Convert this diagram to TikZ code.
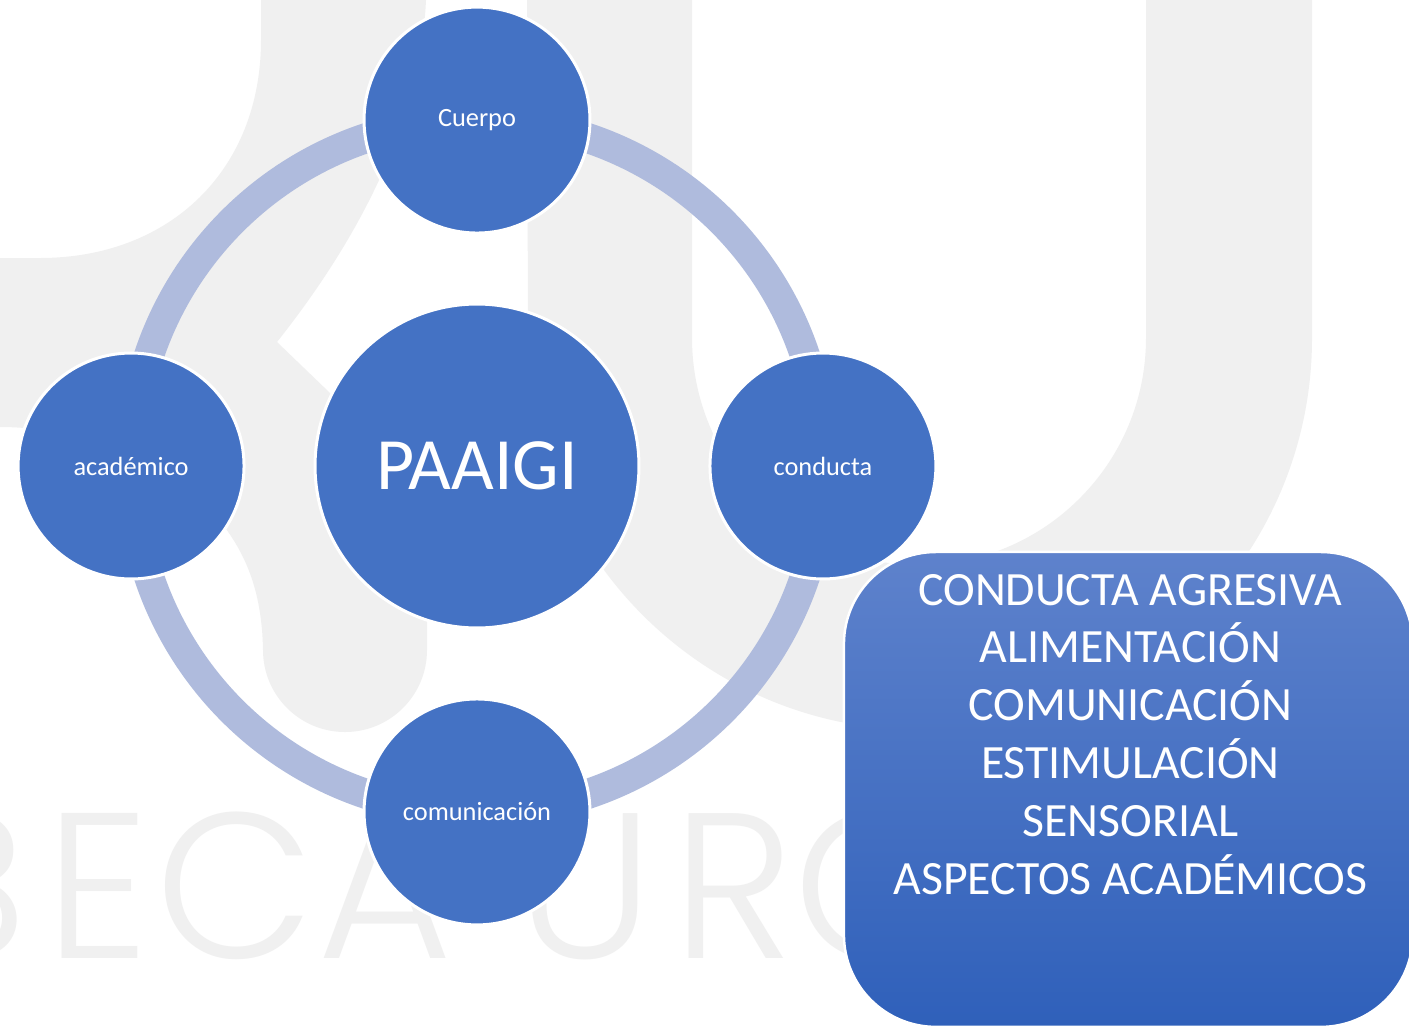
\documentclass[tikz,border=0pt]{standalone}
\usepackage{fontspec}
\setmainfont{Carlito}
\IfFontExistsTF{Poppins Light}{\newfontfamily\markfont{Poppins Light}}{\newfontfamily\markfont{Poppins}}
\usetikzlibrary{positioning}
\definecolor{paablue}{RGB}{68,114,196}
\definecolor{ringblue}{RGB}{175,187,221}
\definecolor{markgray}{RGB}{240,240,240}
\definecolor{boxtop}{RGB}{94,130,204}
\definecolor{boxbottom}{RGB}{47,96,186}
\pgfdeclarelayer{mark}
\pgfdeclarelayer{ring}
\pgfsetlayers{mark,ring,main}

\begin{document}
\begin{tikzpicture}[x=0.02cm,y=-0.02cm,node distance=6.92cm,on grid,
        topic/.style={circle,fill=paablue,draw=white,line width=0.06cm,minimum size=4.52cm,inner sep=0pt,text=white,font=\fontsize{15}{18}\selectfont},
        hub/.style={topic,minimum size=6.48cm,font=\fontsize{42}{50}\selectfont},
        ringline/.style={draw=ringblue,line width=0.6cm},
        listbox/.style={rectangle,rounded corners=1.84cm,draw=white,line width=0.05cm,top color=boxtop,bottom color=boxbottom,minimum width=11.38cm,minimum height=9.5cm},
        listtext/.style={text=white,align=center,inner sep=0pt,font=\fontsize{27.2}{32.9}\selectfont},
        markletter/.style={text=markgray,inner sep=0pt,anchor=base,font=\markfont\fontsize{118}{120}\selectfont}]
            \useasboundingbox (0,0) rectangle (1409,1028);
            \begin{pgfonlayer}{mark}
                \begin{scope}
                    \clip (0,0) rectangle (1409,1028);
                    \fill[white] (0,0) rectangle (1409,1028);
                    \fill[markgray] (261,0) -- (426,0) .. controls (420,130) and (350,250) .. (277,342)
                        -- (330,393) .. controls (400,470) and (427,540) .. (427,620) -- (427,650)
                        arc[start angle=0,end angle=180,radius=82]
                        .. controls (262,590) and (245,550) .. (215,515) .. controls (170,460) and (80,427) .. (0,427)
                        -- (0,258) -- (40,258) .. controls (170,258) and (261,170) .. (261,40) -- cycle;
                    \fill[markgray] (527,0) -- (692,0) -- (692,338) arc[start angle=180,end angle=0,radius=227]
                        -- (1146,0) -- (1312,0) -- (1312,338) arc[start angle=0,end angle=180,radius=392] -- cycle;
                    \foreach \x/\l [count=\i] in {-35/B,98/E,235/C,385/A,585/U,733/R,875/O}
                        \node[markletter] (mark-\i) at (\x,958) {\l};
                \end{scope}
            \end{pgfonlayer}
            \node[hub] (paaigi) at (477,466) {PAAIGI};
            \node[topic] (cuerpo) [above=of paaigi] {Cuerpo};
            \node[topic] (conducta) [right=of paaigi] {conducta};
            \node[topic] (comunicacion) [below=of paaigi] {comunicación};
            \node[topic] (academico) [left=of paaigi] {académico};
            \begin{pgfonlayer}{ring}
                \path[ringline]
                    (cuerpo.center) edge [bend left=45] (conducta.center)
                    (conducta.center) edge [bend left=45] (comunicacion.center)
                    (comunicacion.center) edge [bend left=45] (academico.center)
                    (academico.center) edge [bend left=45] (cuerpo.center);
            \end{pgfonlayer}
            \node[listbox] (aspectos) [below right=6.47cm and 6.11cm of conducta] {};
            \node[listtext,anchor=north] (lista) at ([xshift=0.04cm,yshift=-0.46cm]aspectos.north)
                {CONDUCTA AGRESIVA\\ALIMENTACIÓN\\COMUNICACIÓN\\ESTIMULACIÓN\\SENSORIAL\\ASPECTOS ACADÉMICOS};
        \end{tikzpicture}
\end{document}
